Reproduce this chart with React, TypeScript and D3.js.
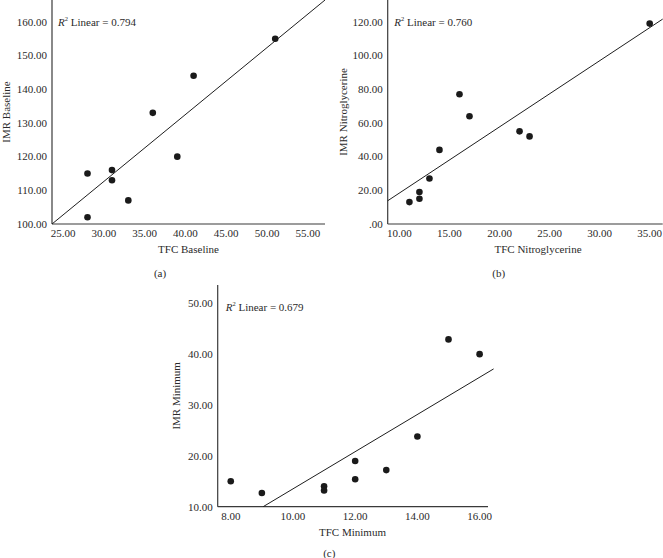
import React from "react";
import * as d3 from "d3";

// ---- Data ----
const aTFC = [28, 28, 31, 31, 33, 36, 39, 41, 51];
const aIMR = [115, 102, 116, 113, 107, 133, 120, 144, 155];
const bTFC = [11, 12, 12, 13, 14, 16, 17, 22, 23, 35];
const bIMR = [13, 15, 19, 27, 44, 77, 64, 55, 52, 119];
const cTFC = [8, 9, 11, 11, 12, 12, 13, 14, 15, 16];
const cIMR = [15, 12.7, 14, 13.2, 19, 15.4, 17.2, 23.8, 42.9, 40];

const aXTicks = [25, 30, 35, 40, 45, 50, 55];
const aYTicks = [100, 110, 120, 130, 140, 150, 160];
const bXTicks = [10, 15, 20, 25, 30, 35];
const bYTicks = [0, 20, 40, 60, 80, 100, 120];
const cXTicks = [8, 10, 12, 14, 16];
const cYTicks = [10, 20, 30, 40, 50];

const aXDomain = [23.65, 57.1];
const aYDomain = [100, 166.5];
const bXDomain = [8.83, 36.3];
const bYDomain = [0, 133];
const cXDomain = [7.58, 16.27];
const cYDomain = [10, 53.6];

// fit lines: [intercept, slope], x extent
const aFit = [52.98, 1.988];
const bFit = [-20.88, 3.927];
const cFit = [-23.06, 3.657];
const aFitX = [23.65, 57.1];
const bFitX = [8.83, 36.3];
const cFitX = [9.04, 16.45];

const r2Labels = ["0.794", "0.760", "0.679"];
const xTitles = ["TFC Baseline", "TFC Nitroglycerine", "TFC Minimum"];
const yTitles = ["IMR Baseline", "IMR Nitroglycerine", "IMR Minimum"];
const panelLabels = ["(a)", "(b)", "(c)"];

const FONT = "'Liberation Serif', 'Times New Roman', serif";
const TEXT = "#2a2a2a";

const fmt = (v: number) => {
  const s = d3.format(".2f")(v);
  return s.startsWith("0.") ? s.slice(1) : s;
};

type PanelProps = {
  xs: number[]; ys: number[];
  xTicks: number[]; yTicks: number[];
  xDomain: number[]; yDomain: number[];
  xRange: [number, number]; yRange: [number, number];
  fit: number[]; fitX: number[];
  r2: string; xTitle: string; yTitle: string; label: string;
  xTitleX: number; yTitleX: number; labelX: number; labelY: number; r2X: number;
};

function Panel(p: PanelProps) {
  const x = d3.scaleLinear().domain(p.xDomain).range(p.xRange);
  const y = d3.scaleLinear().domain(p.yDomain).range(p.yRange);
  const [x0, x1] = p.xRange;
  const [yb, yt] = p.yRange;
  const line = d3.line<number>().x((d) => x(d)).y((d) => y(p.fit[0] + p.fit[1] * d));
  const yMid = (yb + yt) / 2;
  return (
    <g fontFamily={FONT} fill={TEXT} fontSize={11}>
      {/* axes */}
      <line x1={x0} x2={x0} y1={yb} y2={yt} stroke="#3a3a3a" strokeWidth={1.2} />
      <line x1={x0} x2={x1} y1={yb} y2={yb} stroke="#3a3a3a" strokeWidth={1.2} />
      {p.yTicks.map((t) => (
        <text key={"y" + t} x={x0 - 5} y={y(t) + 3.8} textAnchor="end">{fmt(t)}</text>
      ))}
      {p.xTicks.map((t) => (
        <text key={"x" + t} x={x(t)} y={yb + 13} textAnchor="middle">{fmt(t)}</text>
      ))}
      {/* fit line */}
      <path d={line(p.fitX) || ""} fill="none" stroke="#1e1e1e" strokeWidth={1} />
      {/* points */}
      {p.xs.map((v, i) => (
        <circle key={i} cx={x(v)} cy={y(p.ys[i])} r={3.3} fill="#1a1a1a" />
      ))}
      {/* R2 */}
      <text x={p.r2X} y={yt + 25.5}>
        <tspan fontStyle="italic">R</tspan>
        <tspan fontSize={6.5} dy={-5}>2</tspan>
        <tspan dy={5}>{" Linear = " + p.r2}</tspan>
      </text>
      {/* titles */}
      <text x={p.xTitleX} y={yb + 29} textAnchor="middle">{p.xTitle}</text>
      <text transform={`translate(${p.yTitleX},${yMid}) rotate(-90)`} textAnchor="middle">{p.yTitle}</text>
      <text x={p.labelX} y={p.labelY} textAnchor="middle">{p.label}</text>
    </g>
  );
}

export default function App() {
  return (
    <svg width={663} height={558} style={{ position: "absolute", left: 0, top: 0, background: "#fff" }}>
      <rect width={663} height={558} fill="#fff" />
      <Panel xs={aTFC} ys={aIMR} xTicks={aXTicks} yTicks={aYTicks}
        xDomain={aXDomain} yDomain={aYDomain} xRange={[52, 325]} yRange={[224, 0]}
        fit={aFit} fitX={aFitX} r2={r2Labels[0]} xTitle={xTitles[0]} yTitle={yTitles[0]} label={panelLabels[0]}
        xTitleX={188.5} yTitleX={10} labelX={160} labelY={276.5} r2X={58} />
      <Panel xs={bTFC} ys={bIMR} xTicks={bXTicks} yTicks={bYTicks}
        xDomain={bXDomain} yDomain={bYDomain} xRange={[387.7, 662.7]} yRange={[224, 0]}
        fit={bFit} fitX={bFitX} r2={r2Labels[1]} xTitle={xTitles[1]} yTitle={yTitles[1]} label={panelLabels[1]}
        xTitleX={538} yTitleX={347} labelX={498.7} labelY={276.5} r2X={394.3} />
      <Panel xs={cTFC} ys={cIMR} xTicks={cXTicks} yTicks={cYTicks}
        xDomain={cXDomain} yDomain={cYDomain} xRange={[217.7, 488]} yRange={[506.7, 285]}
        fit={cFit} fitX={cFitX} r2={r2Labels[2]} xTitle={xTitles[2]} yTitle={yTitles[2]} label={panelLabels[2]}
        xTitleX={352.5} yTitleX={180} labelX={329.3} labelY={557} r2X={225.7} />
    </svg>
  );
}
